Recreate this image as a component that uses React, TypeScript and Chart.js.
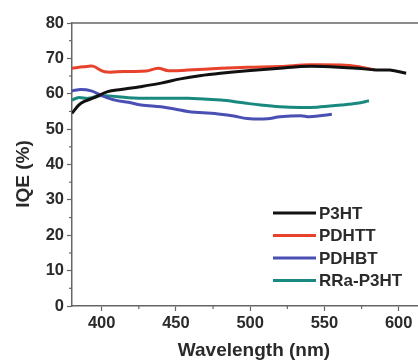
import React, { useEffect, useRef } from "react";
import { Chart, registerables } from "chart.js";

Chart.register(...registerables);

const p3htX = [380, 386, 395, 404, 413, 426, 440, 453, 466, 480, 498, 520, 534, 549, 572, 585, 594, 605];
const p3htY = [54.5, 57.3, 58.9, 60.6, 61.2, 62.0, 63.0, 64.2, 65.1, 65.8, 66.5, 67.2, 67.7, 67.7, 67.2, 66.7, 66.7, 65.8];

const pdhttX = [380, 388, 394, 402, 415, 430, 438, 445, 458, 480, 498, 520, 540, 561, 572, 584];
const pdhttY = [67.2, 67.6, 67.8, 66.2, 66.3, 66.4, 67.2, 66.5, 66.7, 67.2, 67.5, 67.7, 68.2, 68.1, 67.7, 66.7];

const pdhbtX = [380, 386, 393, 399.5, 409, 418, 426.5, 440, 449, 458, 466, 480, 489, 498, 511.5, 520, 534, 540, 555];
const pdhbtY = [60.8, 61.2, 60.8, 59.6, 58.2, 57.6, 56.8, 56.3, 55.7, 55.0, 54.7, 54.2, 53.7, 53.0, 52.9, 53.5, 53.8, 53.5, 54.2];

const rraX = [380, 384, 391, 397.5, 404, 418, 433, 458, 480, 494, 507, 520, 534, 545, 561, 572, 580];
const rraY = [58.2, 58.9, 58.7, 59.4, 59.4, 58.9, 58.7, 58.7, 58.2, 57.5, 56.8, 56.3, 56.1, 56.2, 56.8, 57.3, 58.0];

const seriesNames = ["P3HT", "PDHTT", "PDHBT", "RRa-P3HT"];
const seriesColors = ["#111111", "#e8412c", "#4a4fb3", "#19897f"];

const xTicks = [400, 450, 500, 550, 600];
const yTicks = [0, 10, 20, 30, 40, 50, 60, 70, 80];

const xTitle = "Wavelength (nm)";
const yTitle = "IQE (%)";

const FONT = "Liberation Sans, Arial, Helvetica, sans-serif";
const AXIS_COLOR = "#666666";
const TEXT_COLOR = "#2a2a2a";

function toPoints(xs: number[], ys: number[]) {
  return xs.map((x, i) => ({ x, y: ys[i] }));
}

const decorPlugin = {
  id: "decor",
  afterDraw(chart: any) {
    const ctx = chart.ctx;
    const { left, right, top, bottom } = chart.chartArea;
    const xs = chart.scales.x;
    const ys = chart.scales.y;
    ctx.save();
    // top border
    ctx.strokeStyle = AXIS_COLOR;
    ctx.lineWidth = 1.5;
    ctx.beginPath();
    ctx.moveTo(left, top);
    ctx.lineTo(right, top);
    ctx.stroke();
    // minor ticks
    ctx.lineWidth = 1.2;
    for (let v = 425; v < 613; v += 50) {
      const px = xs.getPixelForValue(v);
      ctx.beginPath();
      ctx.moveTo(px, bottom);
      ctx.lineTo(px, bottom + 3);
      ctx.stroke();
    }
    for (let v = 5; v < 80; v += 10) {
      const py = ys.getPixelForValue(v);
      ctx.beginPath();
      ctx.moveTo(left, py);
      ctx.lineTo(left - 3, py);
      ctx.stroke();
    }
    // axis titles
    ctx.fillStyle = TEXT_COLOR;
    ctx.font = "bold 19px " + FONT;
    ctx.textAlign = "center";
    ctx.textBaseline = "middle";
    ctx.fillText(xTitle, 254, 351);
    ctx.save();
    ctx.translate(24, 174);
    ctx.rotate(-Math.PI / 2);
    ctx.fillText(yTitle, 0, 0);
    ctx.restore();
    // legend
    const lx = 273;
    const ly0 = 213;
    const step = 22.5;
    ctx.font = "bold 17px " + FONT;
    ctx.textBaseline = "middle";
    ctx.textAlign = "left";
    seriesNames.forEach((name, i) => {
      const y = ly0 + i * step;
      ctx.strokeStyle = seriesColors[i];
      ctx.lineWidth = 3;
      ctx.beginPath();
      ctx.moveTo(lx, y);
      ctx.lineTo(lx + 43, y);
      ctx.stroke();
      ctx.fillStyle = TEXT_COLOR;
      ctx.fillText(name, lx + 46, y + 1);
    });
    ctx.restore();
  },
};

export default function App() {
  const canvasRef = useRef<HTMLCanvasElement | null>(null);

  useEffect(() => {
    if (!canvasRef.current) return;
    const data = [
      toPoints(p3htX, p3htY),
      toPoints(pdhttX, pdhttY),
      toPoints(pdhbtX, pdhbtY),
      toPoints(rraX, rraY),
    ];
    const chart = new Chart(canvasRef.current, {
      type: "line",
      data: {
        datasets: seriesNames.map((name, i) => ({
          label: name,
          data: data[i],
          borderColor: seriesColors[i],
          backgroundColor: seriesColors[i],
          borderWidth: 3,
          pointRadius: 0,
          tension: 0.35,
          fill: false,
        })),
      },
      options: {
        animation: false,
        responsive: false,
        maintainAspectRatio: false,
        layout: { padding: { top: 23, right: 0, left: 0, bottom: 0 } },
        plugins: {
          legend: { display: false },
          tooltip: { enabled: false },
        },
        scales: {
          x: {
            type: "linear",
            min: 380,
            max: 613,
            afterFit: (s: any) => {
              s.height = 58;
            },
            afterBuildTicks: (s: any) => {
              s.ticks = xTicks.map((v) => ({ value: v }));
            },
            border: { color: AXIS_COLOR, width: 1.5 },
            grid: { drawOnChartArea: false, drawTicks: true, tickLength: 5, tickColor: AXIS_COLOR, tickWidth: 1.2 },
            ticks: {
              padding: 3,
              color: TEXT_COLOR,
              font: { family: FONT, size: 16.5, weight: "bold" },
              maxRotation: 0,
              autoSkip: false,
            },
            title: { display: false },
          },
          y: {
            type: "linear",
            min: 0,
            max: 80,
            afterFit: (s: any) => {
              s.width = 72;
            },
            afterBuildTicks: (s: any) => {
              s.ticks = yTicks.map((v) => ({ value: v }));
            },
            border: { color: AXIS_COLOR, width: 1.5 },
            grid: { drawOnChartArea: false, drawTicks: true, tickLength: 5, tickColor: AXIS_COLOR, tickWidth: 1.2 },
            ticks: {
              padding: 3,
              color: TEXT_COLOR,
              font: { family: FONT, size: 16.5, weight: "bold" },
              autoSkip: false,
            },
            title: { display: false },
          },
        },
      },
      plugins: [decorPlugin],
    });
    return () => chart.destroy();
  }, []);

  return (
    <div style={{ position: "fixed", left: 0, top: 0, width: 418, height: 364, background: "#ffffff" }}>
      <canvas ref={canvasRef} width={418} height={364} style={{ width: 418, height: 364, display: "block" }} />
    </div>
  );
}
